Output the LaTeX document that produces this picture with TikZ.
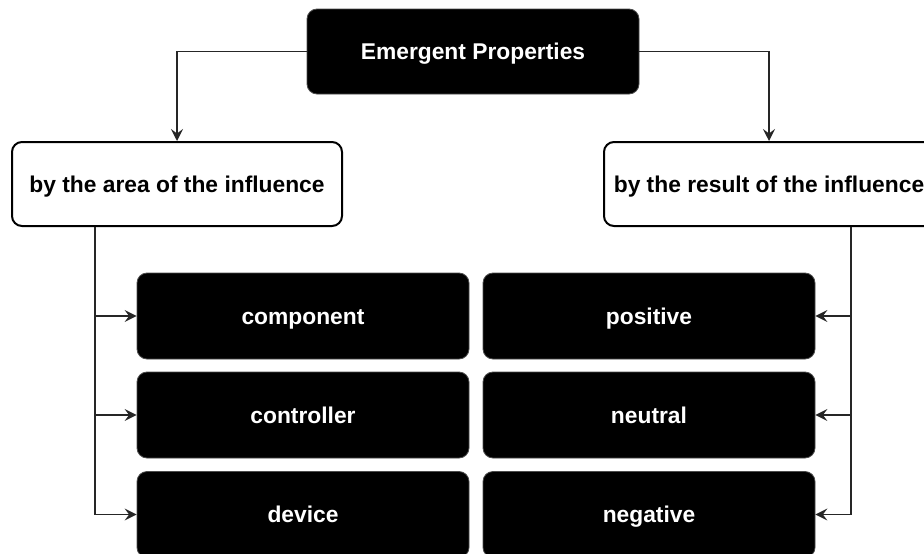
\documentclass[tikz,border=0pt]{standalone}
\usepackage{fontspec}
\setmainfont{Liberation Sans}
\usetikzlibrary{arrows.meta}
\begin{document}
\begin{tikzpicture}[x=1pt,y=-1pt,
  boxtext/.style={font=\fontsize{22.8}{26}\selectfont\bfseries, inner sep=0pt, text height=20pt, text depth=4pt},
  blackbox/.style={boxtext, draw=black!70, line width=0.8pt, fill=black, text=white, rounded corners=10pt,
    minimum width=332pt, minimum height=86pt},
  whitebox/.style={boxtext, draw=black, line width=2pt, fill=white, text=black, rounded corners=10pt,
    minimum width=330pt, minimum height=84pt},
  conn/.style={draw=black!85, line width=1.3pt, -{Stealth[length=12pt,width=12pt,inset=4.5pt]}}]
\useasboundingbox (0,0) rectangle (924,554);
\node[blackbox, minimum height=85pt] (ep) at (473,51.5) {Emergent Properties};
\node[whitebox] (area) at (177,184) {by the area of the influence};
\node[whitebox] (result) at (769,184) {by the result of the influence};
\node[blackbox] (component) at (303,316) {component};
\node[blackbox] (controller) at (303,415) {controller};
\node[blackbox] (device) at (303,514.5) {device};
\node[blackbox] (positive) at (649,316) {positive};
\node[blackbox] (neutral) at (649,415) {neutral};
\node[blackbox] (negative) at (649,514.5) {negative};
\draw[conn] (ep.west) -| (area.north);
\draw[conn] (ep.east) -| (result.north);
\draw[conn] ([xshift=-82pt]area.south) |- (component.west);
\draw[conn] ([xshift=-82pt]area.south) |- (controller.west);
\draw[conn] ([xshift=-82pt]area.south) |- (device.west);
\draw[conn] ([xshift=82pt]result.south) |- (positive.east);
\draw[conn] ([xshift=82pt]result.south) |- (neutral.east);
\draw[conn] ([xshift=82pt]result.south) |- (negative.east);
\end{tikzpicture}
\end{document}
